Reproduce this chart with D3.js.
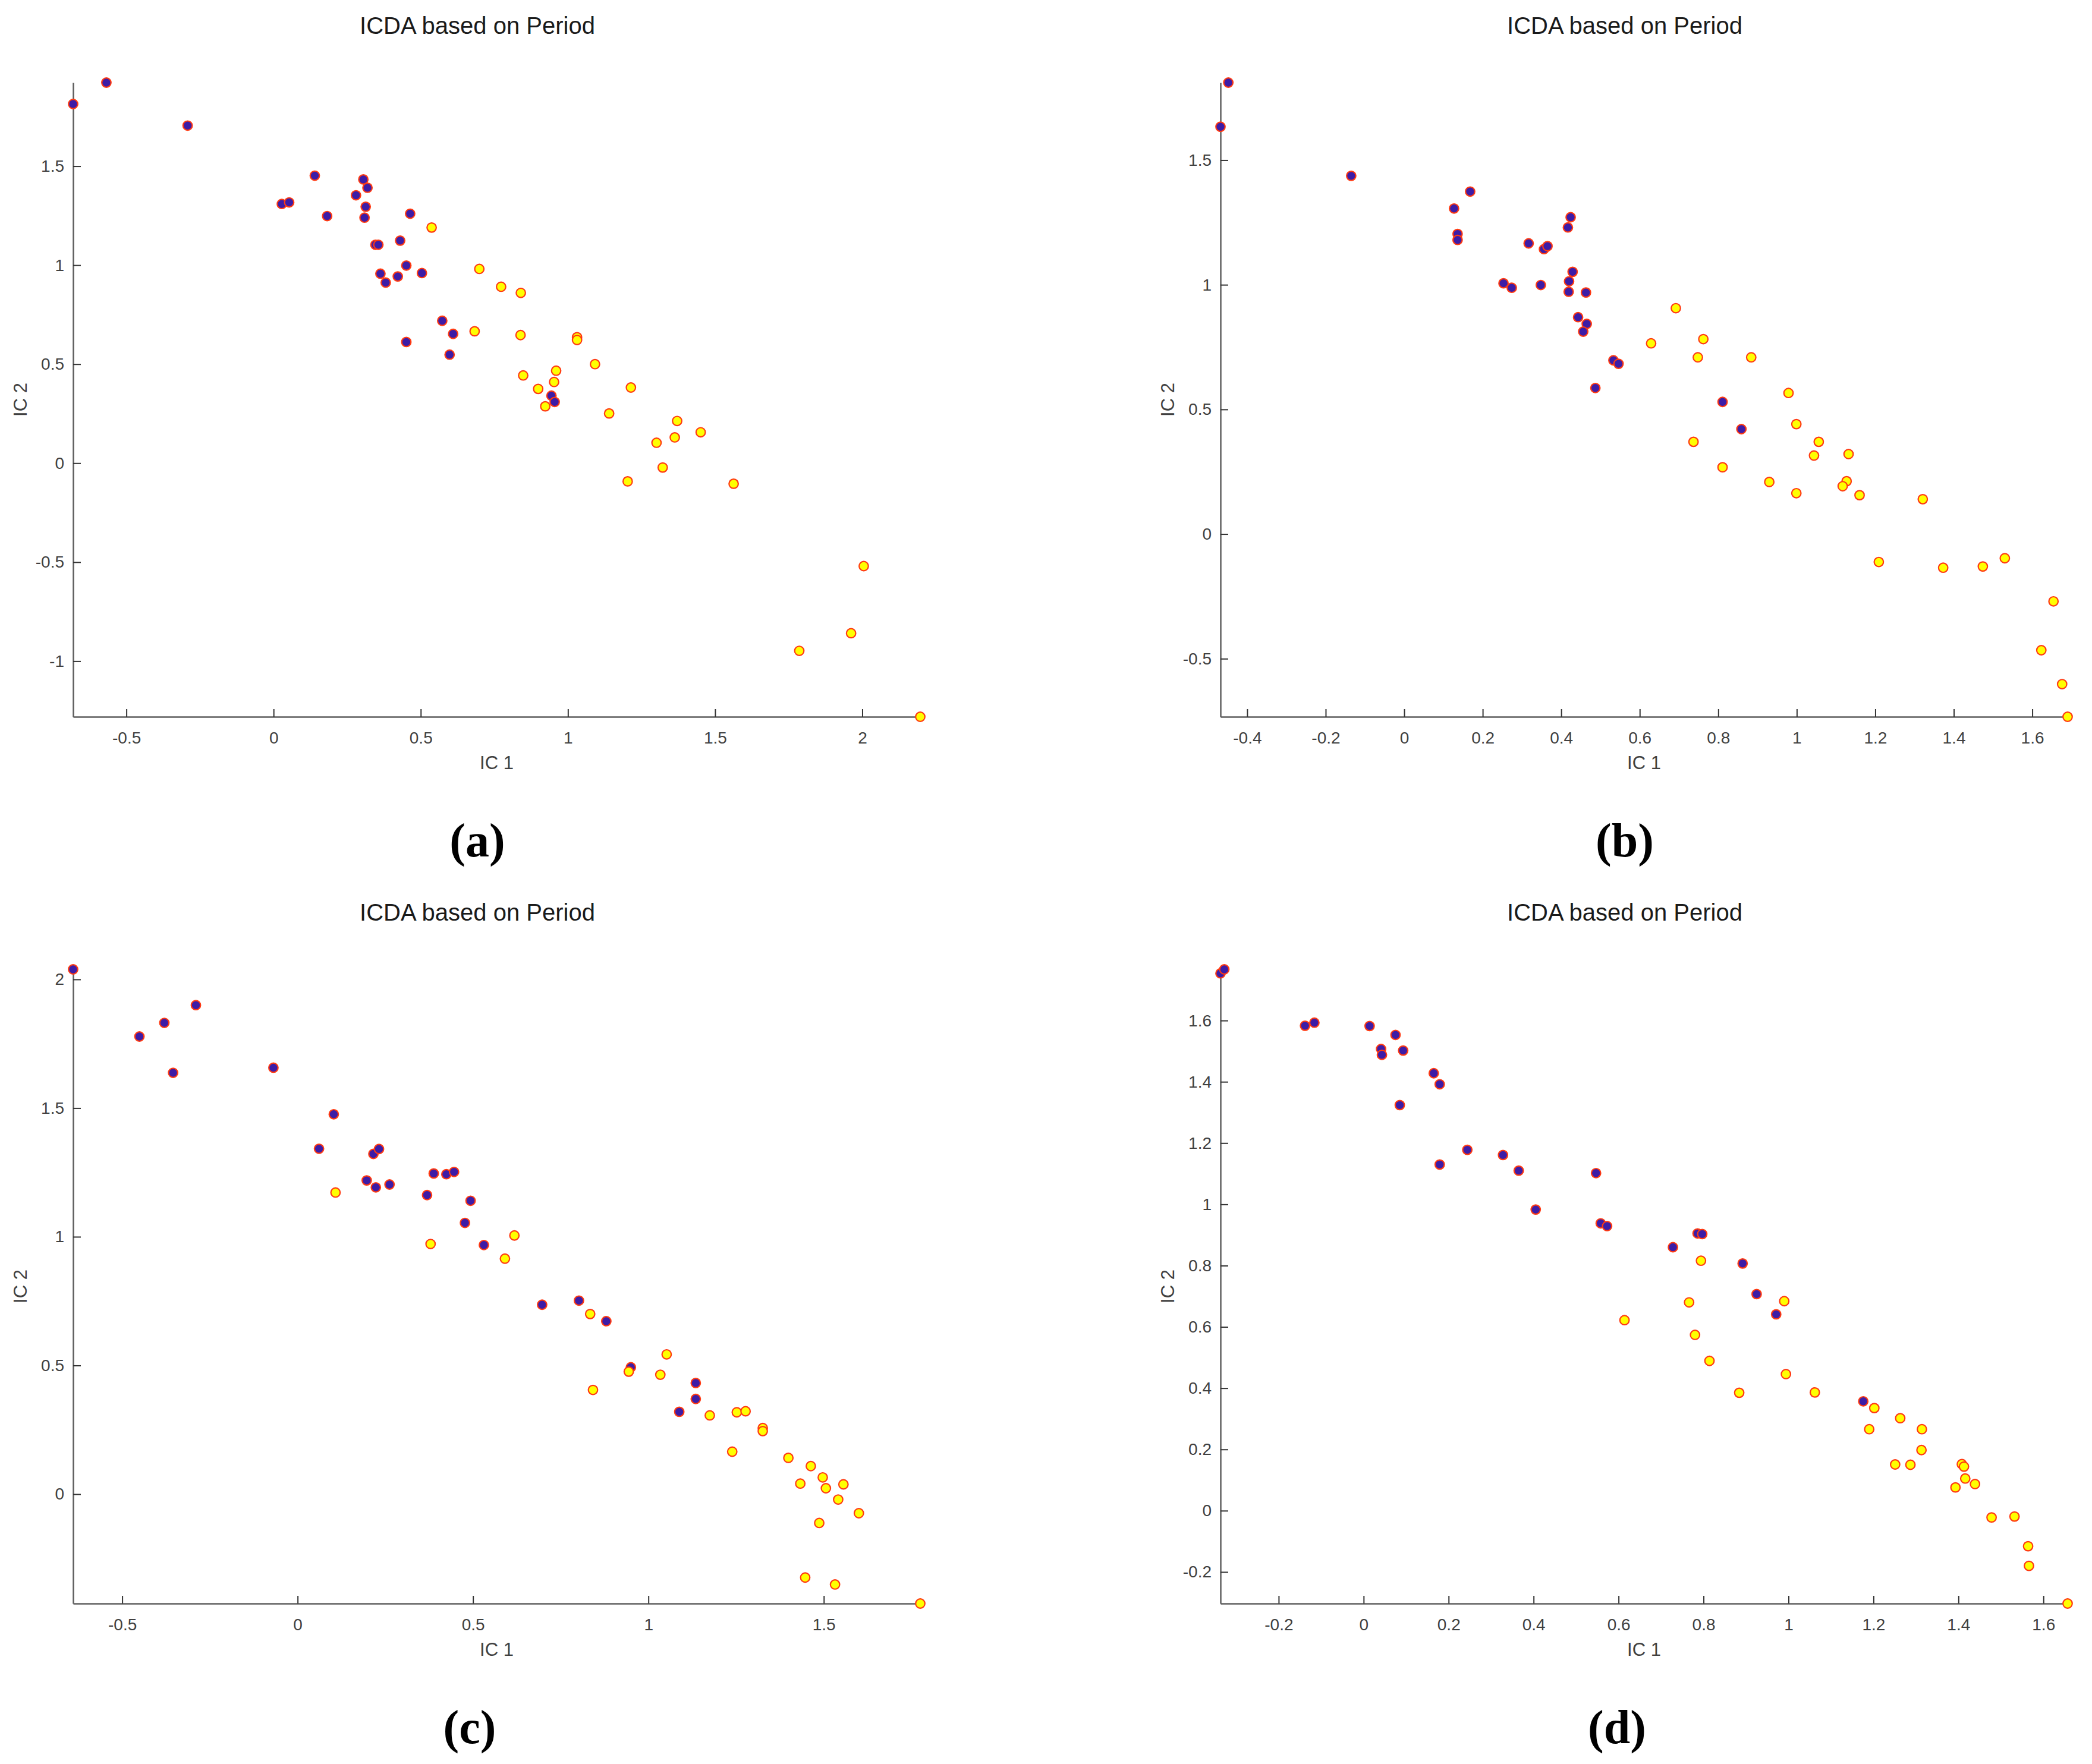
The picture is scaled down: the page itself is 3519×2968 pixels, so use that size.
<!DOCTYPE html>
<html>
<head>
<meta charset="utf-8">
<script src="https://cdn.jsdelivr.net/npm/d3@7"></script>
<style>
  html, body { margin: 0; padding: 0; background: #ffffff; }
  svg { display: block; }
</style>
</head>
<body>
<svg id="chart" width="3519" height="2968"></svg>
<script>
// ---------------- DATA ----------------
const chartTitle = "ICDA based on Period";
const xLabel = "IC 1";
const yLabel = "IC 2";
const panelLetters = ["(a)", "(b)", "(c)", "(d)"];

// Panel (a)
const aGroup1 = [[-0.681,1.814],[-0.568,1.922],[-0.292,1.705],[0.140,1.452],[0.028,1.309],[0.053,1.317],[0.182,1.248],[0.305,1.433],[0.319,1.391],[0.280,1.353],[0.313,1.295],[0.309,1.240],[0.464,1.260],[0.346,1.103],[0.356,1.103],[0.430,1.124],[0.363,0.957],[0.381,0.912],[0.422,0.943],[0.451,0.998],[0.504,0.960],[0.573,0.719],[0.610,0.653],[0.451,0.612],[0.598,0.548],[0.944,0.341],[0.955,0.309]];
const aGroup2 = [[0.537,1.190],[0.699,0.981],[0.773,0.891],[0.840,0.860],[0.683,0.666],[0.839,0.647],[1.031,0.636],[1.031,0.622],[1.092,0.500],[0.848,0.443],[0.960,0.467],[0.953,0.410],[0.899,0.375],[0.923,0.287],[1.214,0.382],[1.140,0.251],[1.371,0.213],[1.363,0.130],[1.451,0.156],[1.301,0.103],[1.322,-0.022],[1.203,-0.092],[1.563,-0.104],[2.005,-0.520],[1.962,-0.859],[1.786,-0.948],[2.197,-1.281]];
const aXTicks = [-0.5, 0, 0.5, 1, 1.5, 2];
const aXTickLabels = ["-0.5", "0", "0.5", "1", "1.5", "2"];
const aYTicks = [-1, -0.5, 0, 0.5, 1, 1.5];
const aYTickLabels = ["-1", "-0.5", "0", "0.5", "1", "1.5"];

// Panel (b)
const bGroup1 = [[-0.448,1.811],[-0.468,1.634],[-0.135,1.437],[0.168,1.374],[0.127,1.306],[0.136,1.204],[0.136,1.180],[0.317,1.166],[0.356,1.143],[0.365,1.155],[0.424,1.271],[0.417,1.230],[0.253,1.006],[0.274,0.988],[0.348,0.999],[0.429,1.052],[0.420,1.014],[0.419,0.972],[0.463,0.969],[0.443,0.870],[0.465,0.843],[0.456,0.812],[0.533,0.697],[0.546,0.683],[0.487,0.586],[0.811,0.530],[0.859,0.421]];
const bGroup2 = [[0.692,0.906],[0.629,0.765],[0.762,0.782],[0.748,0.709],[0.884,0.709],[0.979,0.566],[0.999,0.441],[0.737,0.370],[1.056,0.370],[1.044,0.315],[1.132,0.321],[0.811,0.268],[0.930,0.209],[0.999,0.164],[1.127,0.212],[1.117,0.192],[1.160,0.156],[1.321,0.140],[1.209,-0.112],[1.373,-0.135],[1.474,-0.130],[1.530,-0.097],[1.654,-0.270],[1.623,-0.466],[1.676,-0.602],[1.690,-0.733]];
const bXTicks = [-0.4, -0.2, 0, 0.2, 0.4, 0.6, 0.8, 1, 1.2, 1.4, 1.6];
const bXTickLabels = ["-0.4", "-0.2", "0", "0.2", "0.4", "0.6", "0.8", "1", "1.2", "1.4", "1.6"];
const bYTicks = [-0.5, 0, 0.5, 1, 1.5];
const bYTickLabels = ["-0.5", "0", "0.5", "1", "1.5"];

// Panel (c)
const cGroup1 = [[-0.640,2.039],[-0.451,1.778],[-0.380,1.831],[-0.290,1.900],[-0.355,1.637],[-0.069,1.657],[0.103,1.476],[0.061,1.342],[0.216,1.322],[0.232,1.341],[0.197,1.219],[0.223,1.192],[0.262,1.203],[0.369,1.162],[0.388,1.246],[0.424,1.243],[0.446,1.252],[0.493,1.140],[0.477,1.054],[0.531,0.968],[0.697,0.736],[0.802,0.752],[0.880,0.672],[0.950,0.493],[1.135,0.432],[1.135,0.370],[1.088,0.320]];
const cGroup2 = [[0.108,1.172],[0.379,0.972],[0.618,1.005],[0.591,0.915],[0.834,0.700],[0.842,0.405],[1.052,0.543],[0.944,0.476],[1.034,0.464],[1.175,0.306],[1.252,0.318],[1.277,0.322],[1.326,0.257],[1.326,0.245],[1.239,0.165],[1.399,0.141],[1.463,0.109],[1.497,0.065],[1.433,0.041],[1.506,0.023],[1.556,0.038],[1.541,-0.021],[1.600,-0.074],[1.487,-0.112],[1.447,-0.324],[1.532,-0.351],[1.775,-0.425]];
const cXTicks = [-0.5, 0, 0.5, 1, 1.5];
const cXTickLabels = ["-0.5", "0", "0.5", "1", "1.5"];
const cYTicks = [0, 0.5, 1, 1.5, 2];
const cYTickLabels = ["0", "0.5", "1", "1.5", "2"];

// Panel (d)
const dGroup1 = [[-0.337,1.754],[-0.328,1.767],[-0.138,1.583],[-0.116,1.593],[0.014,1.582],[0.075,1.553],[0.041,1.507],[0.043,1.488],[0.093,1.502],[0.165,1.428],[0.179,1.392],[0.085,1.324],[0.179,1.130],[0.244,1.178],[0.328,1.161],[0.365,1.110],[0.405,0.983],[0.547,1.102],[0.558,0.938],[0.573,0.929],[0.728,0.860],[0.786,0.905],[0.797,0.903],[0.892,0.807],[0.925,0.707],[0.971,0.641],[1.176,0.357]];
const dGroup2 = [[0.794,0.816],[0.614,0.622],[0.766,0.680],[0.780,0.574],[0.814,0.489],[0.990,0.684],[0.994,0.446],[0.884,0.385],[1.062,0.386],[1.202,0.335],[1.263,0.302],[1.190,0.266],[1.314,0.266],[1.313,0.198],[1.251,0.151],[1.287,0.150],[1.408,0.152],[1.413,0.144],[1.416,0.105],[1.393,0.076],[1.439,0.087],[1.478,-0.022],[1.532,-0.019],[1.564,-0.116],[1.566,-0.180],[1.657,-0.303]];
const dXTicks = [-0.2, 0, 0.2, 0.4, 0.6, 0.8, 1, 1.2, 1.4, 1.6];
const dXTickLabels = ["-0.2", "0", "0.2", "0.4", "0.6", "0.8", "1", "1.2", "1.4", "1.6"];
const dYTicks = [-0.2, 0, 0.2, 0.4, 0.6, 0.8, 1, 1.2, 1.4, 1.6];
const dYTickLabels = ["-0.2", "0", "0.2", "0.4", "0.6", "0.8", "1", "1.2", "1.4", "1.6"];

// ---------------- LAYOUT / STYLE ----------------
const plotW = 1425, plotH = 1067;
const panels = [
  { left: 123,  top: 139,  g1: aGroup1, g2: aGroup2, xt: aXTicks, xl: aXTickLabels, yt: aYTicks, yl: aYTickLabels, letter: panelLetters[0], letterX: 803 },
  { left: 2053, top: 139,  g1: bGroup1, g2: bGroup2, xt: bXTicks, xl: bXTickLabels, yt: bYTicks, yl: bYTickLabels, letter: panelLetters[1], letterX: 2733 },
  { left: 123,  top: 1631, g1: cGroup1, g2: cGroup2, xt: cXTicks, xl: cXTickLabels, yt: cYTicks, yl: cYTickLabels, letter: panelLetters[2], letterX: 790 },
  { left: 2053, top: 1631, g1: dGroup1, g2: dGroup2, xt: dXTicks, xl: dXTickLabels, yt: dYTicks, yl: dYTickLabels, letter: panelLetters[3], letterX: 2720 }
];
const colorG1 = "#3d1ca6";
const colorG2 = "#ffff00";
const edgeColor = "#ff3a12";
const sans = "'Liberation Sans', Arial, Helvetica, sans-serif";
const serif = "'Liberation Serif', 'Times New Roman', serif";

const svg = d3.select("#chart");
svg.append("rect").attr("width", 3519).attr("height", 2968).attr("fill", "#fff");

panels.forEach(p => {
  const all = p.g1.concat(p.g2);
  const x = d3.scaleLinear().domain(d3.extent(all, d => d[0])).range([0, plotW]);
  const y = d3.scaleLinear().domain(d3.extent(all, d => d[1])).range([plotH, 0]);

  const g = svg.append("g").attr("transform", `translate(${p.left},${p.top})`);

  // title
  g.append("text")
    .attr("x", p.letterX - p.left + (p.letter === "(c)" || p.letter === "(d)" ? 13 : 0))
    .attr("y", -82)
    .attr("text-anchor", "middle")
    .attr("font-family", sans)
    .attr("font-size", 40)
    .attr("fill", "#1a1a1a")
    .text(chartTitle);

  // axes
  const xAxis = d3.axisBottom(x)
    .tickValues(p.xt)
    .tickFormat((d, i) => p.xl[i])
    .tickSizeInner(-13).tickSizeOuter(0).tickPadding(25);
  const yAxis = d3.axisLeft(y)
    .tickValues(p.yt)
    .tickFormat((d, i) => p.yl[i])
    .tickSizeInner(-13).tickSizeOuter(0).tickPadding(15);

  const gx = g.append("g").attr("transform", `translate(0,${plotH})`).call(xAxis);
  const gy = g.append("g").call(yAxis);
  [gx, gy].forEach(ax => {
    ax.attr("font-family", sans).attr("font-size", 28);
    ax.select(".domain").attr("stroke", "#5e5e5e").attr("stroke-width", 2.5);
    ax.selectAll(".tick line").attr("stroke", "#333").attr("stroke-width", 2);
    ax.selectAll(".tick text").attr("fill", "#404040");
  });

  // axis labels
  g.append("text")
    .attr("x", plotW / 2)
    .attr("y", plotH + 88)
    .attr("text-anchor", "middle")
    .attr("font-family", sans)
    .attr("font-size", 31)
    .attr("fill", "#404040")
    .text(xLabel);
  g.append("text")
    .attr("transform", `translate(${-78},${plotH / 2}) rotate(-90)`)
    .attr("text-anchor", "middle")
    .attr("font-family", sans)
    .attr("font-size", 31)
    .attr("fill", "#404040")
    .text(yLabel);

  // points: group 1 then group 2 on top
  g.append("g").selectAll("circle").data(p.g1).join("circle")
    .attr("cx", d => x(d[0])).attr("cy", d => y(d[1])).attr("r", 7.8)
    .attr("fill", colorG1).attr("stroke", edgeColor).attr("stroke-width", 2.2);
  g.append("g").selectAll("circle").data(p.g2).join("circle")
    .attr("cx", d => x(d[0])).attr("cy", d => y(d[1])).attr("r", 7.8)
    .attr("fill", colorG2).attr("stroke", edgeColor).attr("stroke-width", 2.2);

  // panel letter
  g.append("text")
    .attr("x", p.letterX - p.left)
    .attr("y", plotH + 235)
    .attr("text-anchor", "middle")
    .attr("font-family", serif)
    .attr("font-weight", "bold")
    .attr("font-size", 80)
    .attr("fill", "#000")
    .text(p.letter);
});
</script>
</body>
</html>
